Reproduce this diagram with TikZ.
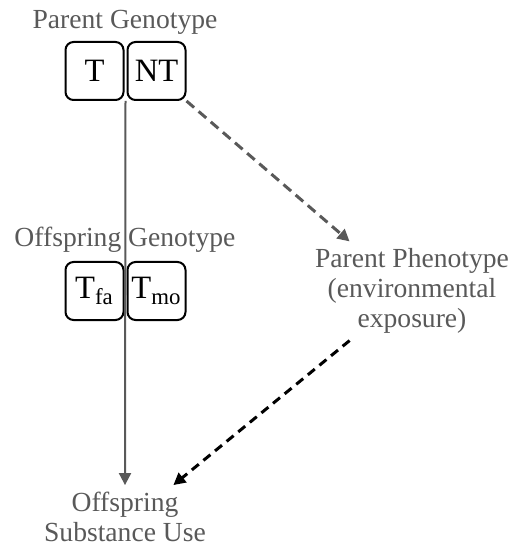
\documentclass[tikz,border=0pt]{standalone}
\usepackage{fontspec}
\setmainfont{Liberation Serif}
\definecolor{GenoGray}{HTML}{595959}
\usetikzlibrary{arrows.meta,calc,positioning}

\begin{document}
\begin{tikzpicture}[x=0.5pt,y=-0.5pt,>={Triangle[length=6pt,width=6pt]},node distance=1pt]
  \useasboundingbox (0,0) rectangle (514,550);
  \tikzset{
    allele/.style={draw,rounded corners=4pt,line width=1pt,minimum size=29pt,inner sep=0pt,font=\fontsize{16.3}{18}\selectfont},
    label/.style={text=GenoGray,align=center,font=\fontsize{13.8}{15}\selectfont}
  }
  % parent side
  \node[label,anchor=base] (pgeno) at (125,29) {Parent Genotype};
  \node[allele] (pT) at (94.5,71) {T};
  \node[allele,right=of pT] (pNT) {NT};
  \coordinate (pjoin) at ($(pT.south east)!0.5!(pNT.south west)$);
  % offspring side
  \node[label,anchor=base] (ogeno) at (125,247) {Offspring Genotype};
  \node[allele] (oTfa) at (94.5,291) {T\textsubscript{fa}};
  \node[allele,right=of oTfa] (oTmo) {T\textsubscript{mo}};
  \node[label] (ppheno) at (412,291) {Parent Phenotype\\(environmental\\exposure)};
  \node[label] (ouse) at (125,517) {Offspring\\Substance Use};
  % paths
  \draw[->,line width=1pt,GenoGray] (pjoin) -- (ouse.north);
  \draw[->,line width=1.5pt,GenoGray,dash pattern=on 5pt off 3pt] (pNT.south east) -- ($(ppheno.north west)!0.2!(ppheno.north east)$);
  \draw[->,line width=1.5pt,black,dash pattern=on 4.5pt off 3pt] ($(ppheno.south west)!0.2!(ppheno.south east)$) -- ($(ouse.north)!0.55!(ouse.north east)$);
\end{tikzpicture}
\end{document}
